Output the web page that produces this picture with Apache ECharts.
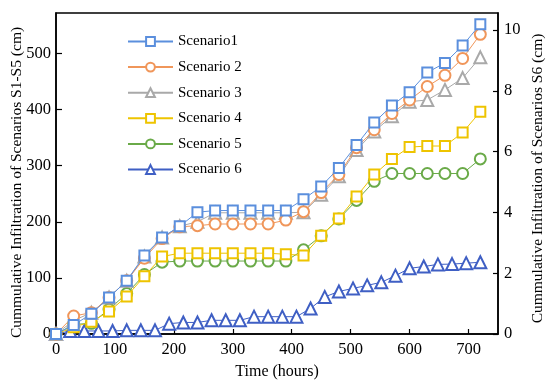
<!DOCTYPE html>
<html>
<head>
<meta charset="utf-8">
<script src="https://cdn.jsdelivr.net/npm/echarts@6/dist/echarts.min.js"></script>
<style>html,body{margin:0;padding:0;background:#fff}#c{width:550px;height:389px}</style>
</head>
<body>
<div id="c"></div>
<script>
var timeS15 = [0,30,60,90,120,150,180,210,240,270,300,330,360,390,420,450,480,510,540,570,600,630,660,690,720];
var timeS6 = [0,24,48,72,96,120,144,168,192,216,240,264,288,312,336,360,384,408,432,456,480,504,528,552,576,600,624,648,672,696,720];
var scenario1 = [0,16,36,65,95,140,172,192,217,220,220,220,220,220,240,263,296,337,377,407,431,466,483,514,552];
var scenario2 = [0,32,38,65,95,135,170,191,193,196,196,196,196,203,218,252,284,332,364,393,417,441,461,491,534];
var scenario3 = [0,24,38,65,95,138,172,192,200,216,216,216,216,216,217,248,281,328,361,388,414,417,435,456,493];
var scenario4 = [0,12,22,40,67,103,138,144,144,144,144,144,144,142,140,175,206,245,284,312,333,335,335,359,396];
var scenario5 = [0,17,19,44,72,106,128,130,130,130,130,130,130,130,150,175,205,238,272,286,286,286,286,286,312];
var scenario6 = [0,0.1,0.1,0.1,0.1,0.12,0.12,0.12,0.34,0.38,0.38,0.45,0.45,0.45,0.57,0.57,0.57,0.57,0.84,1.22,1.40,1.50,1.60,1.70,1.92,2.16,2.22,2.29,2.30,2.33,2.36];
var names = ['Scenario1','Scenario 2','Scenario 3','Scenario 4','Scenario 5','Scenario 6'];

function pairs(xs, ys){ return xs.map(function(x,i){ return [x, ys[i]]; }); }

var FONT = 'Liberation Serif';
var colors = ['#5b8fdd','#f0965a','#a9a9a9','#eec400','#6aaa48','#3f5fc4'];
var symbols = ['emptyRect','emptyCircle','emptyTriangle','emptyRect','emptyCircle','emptyTriangle'];
var sizes = [10,11,12,10,11,12];
var datas = [
  pairs(timeS15, scenario1), pairs(timeS15, scenario2), pairs(timeS15, scenario3),
  pairs(timeS15, scenario4), pairs(timeS15, scenario5), pairs(timeS6, scenario6)
];

var series = names.map(function(n, i){
  return {
    name: n, type: 'line', data: datas[i], yAxisIndex: i === 5 ? 1 : 0,
    symbol: symbols[i], symbolSize: sizes[i], showAllSymbol: true,
    lineStyle: {color: colors[i], width: 1},
    itemStyle: {color: colors[i], borderColor: colors[i], borderWidth: 1.2},
    emphasis: {disabled: true}, animation: false, z: 10 - i
  };
});

var chart = echarts.init(document.getElementById('c'));
chart.setOption({
  animation: false,
  backgroundColor: '#fff',
  color: colors,
  grid: {left: 56, right: 52, top: 13, bottom: 55, containLabel: false, outerBoundsMode: 'none',
         show: true, borderColor: '#000', borderWidth: 1.5, backgroundColor: 'transparent'},
  legend: {
    orient: 'vertical', left: 122, top: 29, itemWidth: 45, itemHeight: 11, itemGap: 10.6,
    data: names,
    textStyle: {fontFamily: FONT, fontSize: 15, color: '#000'}
  },
  xAxis: {
    type: 'value', min: 0, max: 750, interval: 100,
    name: 'Time (hours)', nameLocation: 'middle', nameGap: 30, nameMoveOverlap: false,
    nameTextStyle: {fontFamily: FONT, fontSize: 16, color: '#000'},
    axisLine: {show: true, lineStyle: {color: '#000', width: 1.5}},
    axisTick: {show: true, inside: true, length: 5, lineStyle: {color: '#000', width: 1.2}},
    axisLabel: {fontFamily: FONT, fontSize: 16.5, color: '#000', margin: 7, showMaxLabel: false},
    splitLine: {show: false}
  },
  yAxis: [{
    type: 'value', min: 0, max: 572, interval: 100, position: 'left',
    name: 'Cummulative Infiltration of Scenarios S1-S5 (cm)', nameLocation: 'middle', nameGap: 31, nameMoveOverlap: false,
    nameTextStyle: {fontFamily: FONT, fontSize: 15.5, color: '#000', padding: [0, 18, 0, 0]},
    axisLine: {show: true, lineStyle: {color: '#000', width: 1.5}},
    axisTick: {show: true, inside: true, length: 6, lineStyle: {color: '#000', width: 1.2}},
    axisLabel: {fontFamily: FONT, fontSize: 16.5, color: '#000', margin: 5, showMaxLabel: false},
    splitLine: {show: false}
  }, {
    type: 'value', min: 0, max: 10.56, interval: 2, position: 'right',
    name: 'Cummulative Infiltration of Scenarios S6 (cm)', nameLocation: 'middle', nameGap: 32, nameRotate: 90, nameMoveOverlap: false,
    nameTextStyle: {fontFamily: FONT, fontSize: 15.5, color: '#000', padding: [0, 10, 0, 0]},
    axisLine: {show: true, lineStyle: {color: '#000', width: 1.5}},
    axisTick: {show: true, inside: true, length: 5, lineStyle: {color: '#000', width: 1.2}},
    axisLabel: {fontFamily: FONT, fontSize: 16.5, color: '#000', margin: 6, showMaxLabel: false},
    splitLine: {show: false}
  }],
  series: series
});
</script>
</body>
</html>
